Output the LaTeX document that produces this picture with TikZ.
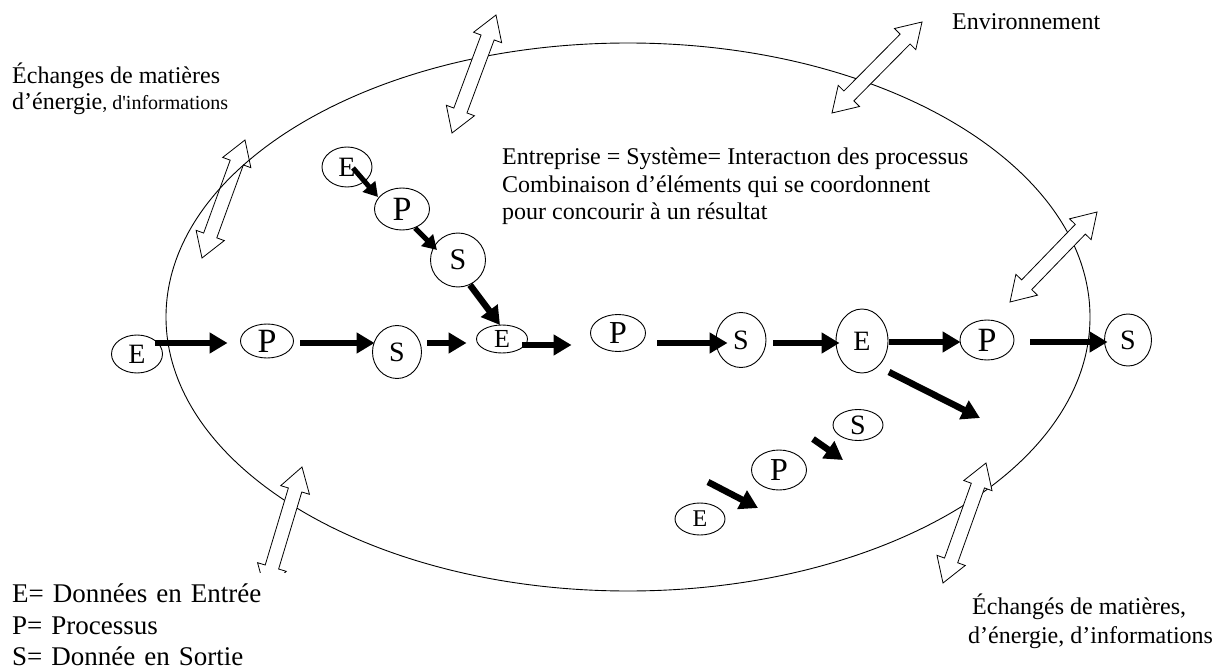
\documentclass[tikz,border=0pt]{standalone}
\usepackage{fontspec}
\setmainfont{Liberation Serif}
\usetikzlibrary{shapes.geometric,arrows.meta,calc}

\newcommand\fs[1]{\fontsize{#1}{#1}\selectfont}

% hollow two-headed exchange arrow between two tips
\newcommand\exch[3]{%
  \coordinate (#1a) at #2;
  \coordinate (#1b) at #3;
  \coordinate (#1ha) at ($(#1a)!24pt!(#1b)$);
  \coordinate (#1hb) at ($(#1b)!24pt!(#1a)$);
  \draw[exchange] (#1a) -- ($(#1ha)!15pt!90:(#1b)$) -- ($(#1ha)!7pt!90:(#1b)$)
    -- ($(#1hb)!7pt!-90:(#1a)$) -- ($(#1hb)!15pt!-90:(#1a)$) -- (#1b)
    -- ($(#1hb)!15pt!90:(#1a)$) -- ($(#1hb)!7pt!90:(#1a)$)
    -- ($(#1ha)!7pt!-90:(#1b)$) -- ($(#1ha)!15pt!-90:(#1b)$) -- cycle;
}

\tikzset{
  blob/.style={draw, ellipse, inner sep=0pt, line width=0.9pt},
  flow/.style={line width=6.5pt, -{Triangle[length=18pt,width=20pt]}},
  flowsm/.style={line width=5pt, -{Triangle[length=14pt,width=16pt]}},
  exchange/.style={draw, fill=white, line width=0.8pt, line join=miter},
  txt/.style={inner sep=0pt, anchor=base west, font=\fs{24}},
}

\begin{document}
\begin{tikzpicture}[x=1pt, y=-1pt]
\useasboundingbox (0,0) rectangle (1229,671);

% exchange arrow lying under the boundary
\exch{xl}{(245,140)}{(202,258)}

% the firm as a system
\draw[line width=0.9pt] (628,317) ellipse [x radius=462pt, y radius=274pt];

% exchanges with the environment
\exch{xt}{(496,15)}{(452,133)}
\exch{xr}{(922,22)}{(832,113)}
\exch{xe}{(1097,212)}{(1010,302)}
\exch{xs}{(986,463)}{(943,583)}
\exch{xw}{(302,467)}{(265,590)}

% legend (opaque block)
\node[fill=white, anchor=north west, inner xsep=4pt, inner ysep=11pt,
      text width=290pt, align=left, font=\fontsize{27}{31.5}\selectfont]
  (key) at (8,573) {E= Données en Entrée\\P= Processus\\S= Donnée en Sortie};

% labels
\node[txt] (env) at (952,30) {Environnement};
\node[txt] (exA1) at (12,84) {Échanges de matières};
\node[txt] (exA2) at (12,110) {d’énergie{\fs{20}, d\textquotesingle informations}};
\node[txt] (def1) at (502,165) {Entreprise = Système= Interactıon des processus};
\node[txt] (def2) at (502,193) {Combinaison d’éléments qui se coordonnent};
\node[txt] (def3) at (502,220) {pour concourir à un résultat};
\node[txt] (exB1) at (972,614) {Échangés de matières,};
\node[txt] (exB2) at (968,643) {d’énergie, d’informations};

% main chain
\node[blob, minimum width=51pt, minimum height=38pt, font=\fs{28}] (E1) at (137,354) {E};
\node[blob, minimum width=53pt, minimum height=34pt, font=\fs{34}] (P1) at (267,341) {P};
\node[blob, minimum width=49pt, minimum height=53pt, font=\fs{28}] (S1) at (397,352) {S};
\node[blob, minimum width=51pt, minimum height=28pt, font=\fs{26}] (E2) at (502,339) {E};
\node[blob, minimum width=55pt, minimum height=37pt, font=\fs{32}] (P2) at (618,333) {P};
\node[blob, minimum width=50pt, minimum height=55pt, font=\fs{28}] (S2) at (741,340) {S};
\node[blob, minimum width=52pt, minimum height=64pt, font=\fs{28}] (E3) at (862,341) {E};
\node[blob, minimum width=54pt, minimum height=40pt, font=\fs{34}] (P3) at (987,340) {P};
\node[blob, minimum width=47pt, minimum height=52pt, font=\fs{28}] (S3) at (1128,340) {S};

% upper branch
\node[blob, minimum width=50pt, minimum height=40pt, font=\fs{28}] (Ea) at (347,167) {E};
\node[blob, minimum width=55pt, minimum height=42pt, font=\fs{34}] (Pa) at (402,209) {P};
\node[blob, minimum width=55pt, minimum height=54pt, font=\fs{30}] (Sa) at (458,260) {S};

% lower branch
\node[blob, minimum width=50pt, minimum height=31pt, font=\fs{28}] (Sb) at (858,425) {S};
\node[blob, minimum width=55pt, minimum height=40pt, font=\fs{32}] (Pb) at (779,470) {P};
\node[blob, minimum width=50pt, minimum height=32pt, font=\fs{24}] (Eb) at (700,519) {E};

% flows of the main chain
\draw[flow] ([xshift=-7.5pt,yshift=11pt]E1.east) -- ([xshift=-12.5pt,yshift=-2pt]P1.west);
\draw[flow] ([xshift=6.5pt,yshift=-2pt]P1.east) -- ([xshift=2.5pt,yshift=9pt]S1.west);
\draw[flow] ([xshift=5.5pt,yshift=9pt]S1.east) -- ([xshift=-9.5pt,yshift=-4pt]E2.west);
\draw[flow] ([xshift=-5.5pt,yshift=-6pt]E2.east) -- ([xshift=-18.5pt,yshift=-12pt]P2.west);
\draw[flow] ([xshift=11.5pt,yshift=-10pt]P2.east) -- ([xshift=12pt,yshift=-3pt]S2.west);
\draw[flow] ([xshift=7pt,yshift=-3pt]S2.east) -- ([xshift=4pt,yshift=-2pt]E3.west);
\draw[flow] ([xshift=1pt,yshift=-1pt]E3.east) -- ([xshift=1pt,yshift=-2pt]P3.west);
\draw[flow] ([xshift=16pt,yshift=-2pt]P3.east) -- ([xshift=3.5pt,yshift=-2pt]S3.west);

% flows of the branches
\draw[flowsm] ([shift={(6pt,-1pt)}]Ea.center) -- ([shift={(-24pt,12pt)}]Pa.center);
\draw[flowsm] ([shift={(13pt,-19pt)}]Pa.center) -- ([shift={(-21pt,10pt)}]Sa.center);
\draw[flow] ([shift={(12pt,-25pt)}]Sa.center) -- ([shift={(-2pt,14pt)}]E2.center);

\coordinate (out) at (980,418);
\draw[flow] ([shift={(27pt,-31pt)}]E3.center) -- (out);

\coordinate (b1s) at (813,439);
\coordinate (b1e) at (843,460);
\coordinate (b2s) at (708,482);
\coordinate (b2e) at (758,508);
\draw[flow] (b1s) -- (b1e);
\draw[flow] (b2s) -- (b2e);
\end{tikzpicture}
\end{document}
